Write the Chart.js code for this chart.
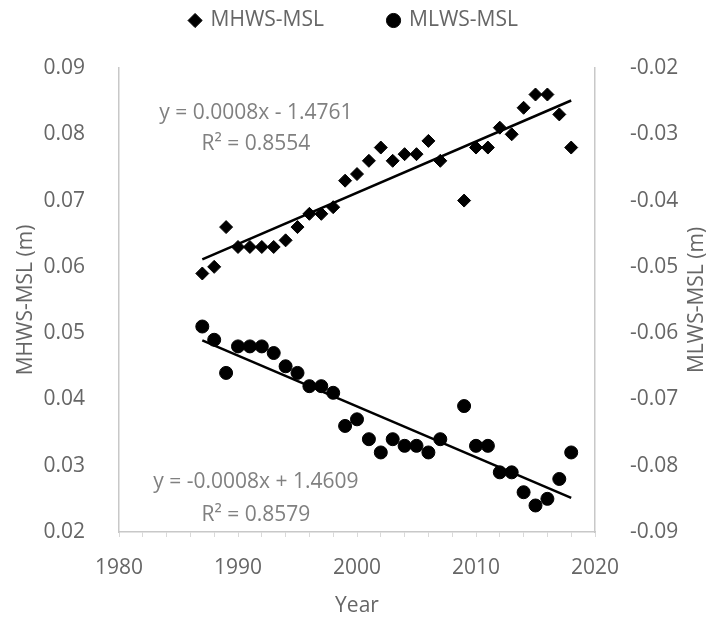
<!DOCTYPE html>
<html>
<head>
<meta charset="utf-8">
<script src="https://cdn.jsdelivr.net/npm/chart.js@4/dist/chart.umd.min.js"></script>
<style>
  html, body { margin: 0; padding: 0; background: #fff; }
  #wrap { width: 708px; height: 620px; }
</style>
</head>
<body>
<div id="wrap"><canvas id="tideChart" width="708" height="620"></canvas></div>
<script>
// values (no 2008 record in either series)
const years = [1987, 1988, 1989, 1990, 1991, 1992, 1993, 1994, 1995, 1996, 1997, 1998, 1999, 2000, 2001, 2002, 2003, 2004, 2005, 2006, 2007,
               2009, 2010, 2011, 2012, 2013, 2014, 2015, 2016, 2017, 2018];
const mhwsMsl = [0.059, 0.060, 0.066, 0.063, 0.063, 0.063, 0.063, 0.064, 0.066, 0.068, 0.068, 0.069, 0.073, 0.074, 0.076, 0.078, 0.076, 0.077, 0.077, 0.079, 0.076,
                 0.070, 0.078, 0.078, 0.081, 0.080, 0.084, 0.086, 0.086, 0.083, 0.078];
const mlwsMsl = [-0.059, -0.061, -0.066, -0.062, -0.062, -0.062, -0.063, -0.065, -0.066, -0.068, -0.068, -0.069, -0.074, -0.073, -0.076, -0.078, -0.076, -0.077, -0.077, -0.078, -0.076,
                 -0.071, -0.077, -0.077, -0.081, -0.081, -0.084, -0.086, -0.085, -0.082, -0.078];
const seriesNames = ['MHWS-MSL', 'MLWS-MSL'];
const axisTitles = ['Year', 'MHWS-MSL (m)', 'MLWS-MSL (m)'];
const xTickLabels = [1980, 1990, 2000, 2010, 2020];
const fitLabels = ['y = 0.0008x - 1.4761', 'R\u00b2 = 0.8554', 'y = -0.0008x + 1.4609', 'R\u00b2 = 0.8579'];

const fam = "'Open Sans', sans-serif";
const textGrey = '#666666';
const axisGrey = '#c8c8c8';

// least squares line through the points, drawn from first to last year
const trend = (xs, ys) =>
{
  const n = xs.length;
  const mx = xs.reduce((a, b) => a + b, 0) / n;
  const my = ys.reduce((a, b) => a + b, 0) / n;
  let sxy = 0, sxx = 0;
  for (let i = 0; i < n; i++)
  {
    sxy += (xs[i] - mx) * (ys[i] - my);
    sxx += (xs[i] - mx) * (xs[i] - mx);
  }
  const slope = sxy / sxx;
  const icpt = my - slope * mx;
  return [ { x: xs[0], y: icpt + slope * xs[0] }, { x: xs[n - 1], y: icpt + slope * xs[n - 1] } ];
}

const toPoints = vals => years.map((yr, i) => ({ x: yr, y: vals[i] }));

// legend box taller so the plot starts lower
const legendHeight = {
  id: 'legendHeight',
  beforeInit(chart)
  {
    const origFit = chart.legend.fit;
    chart.legend.fit = function fit()
    {
      origFit.bind(chart.legend)();
      this.height = 68;
    }
  }
}

// trendline equations + right axis title (reads bottom to top like the left one)
const extraText = {
  id: 'extraText',
  afterDraw(chart)
  {
    const { ctx, scales: { x, y, y1 } } = chart;
    ctx.save();
    ctx.font = '21px ' + fam;
    ctx.fillStyle = '#808080';
    ctx.textAlign = 'center';
    ctx.textBaseline = 'middle';
    const cx = x.getPixelForValue(1991.5);
    ctx.fillText(fitLabels[0], cx, y.getPixelForValue(0.0832));
    ctx.fillText(fitLabels[1], cx, y.getPixelForValue(0.0785));
    ctx.fillText(fitLabels[2], cx, y.getPixelForValue(0.0276));
    ctx.fillText(fitLabels[3], cx, y.getPixelForValue(0.0226));

    ctx.fillStyle = textGrey;
    ctx.translate(y1.right - 11, (y1.top + y1.bottom) / 2);
    ctx.rotate(-Math.PI / 2);
    ctx.fillText(axisTitles[2], 0, 0);
    ctx.restore();
  }
}

const tideChart = new Chart(document.getElementById('tideChart').getContext('2d'),
{
  type: 'scatter',
  data:
  {
    datasets:
    [
      {
        label: seriesNames[0],
        data: toPoints(mhwsMsl),
        yAxisID: 'y',
        pointStyle: 'rectRot',
        pointRadius: 6.5,
        backgroundColor: '#000',
        borderColor: '#000',
        order: 2
      },
      {
        label: seriesNames[1],
        data: toPoints(mlwsMsl),
        yAxisID: 'y1',
        pointStyle: 'circle',
        pointRadius: 6.5,
        backgroundColor: '#000',
        borderColor: '#000',
        order: 2
      },
      {
        label: 'trend1',
        type: 'line',
        data: trend(years, mhwsMsl),
        yAxisID: 'y',
        borderColor: '#000',
        borderWidth: 2.5,
        pointRadius: 0,
        order: 1
      },
      {
        label: 'trend2',
        type: 'line',
        data: trend(years, mlwsMsl),
        yAxisID: 'y1',
        borderColor: '#000',
        borderWidth: 2.5,
        pointRadius: 0,
        order: 1
      }
    ]
  },
  options:
  {
    responsive: false,
    animation: false,
    layout: { padding: 0 },
    plugins:
    {
      legend:
      {
        position: 'top',
        labels:
        {
          usePointStyle: true,
          boxWidth: 10,
          boxHeight: 10,
          padding: 10,
          color: textGrey,
          font: { family: fam, size: 21 },
          generateLabels: chart => Chart.defaults.plugins.legend.labels.generateLabels(chart)
            .filter(l => l.datasetIndex < 2)
            .map(l => { if (l.datasetIndex === 0) l.text += '          '; return l; })
        }
      },
      tooltip: { enabled: false }
    },
    scales:
    {
      x:
      {
        type: 'linear',
        min: 1980,
        max: 2020,
        afterFit: s => { s.height = 88; },
        ticks:
        {
          stepSize: 2,
          autoSkip: false,
          maxRotation: 0,
          color: textGrey,
          font: { family: fam, size: 21 },
          padding: 18,
          callback: v => xTickLabels.includes(v) ? String(v) : ''
        },
        grid: { display: true, drawOnChartArea: false, drawTicks: true, tickLength: 5, color: '#d9d9d9' },
        border: { display: true, color: axisGrey, width: 1.5 },
        title: { display: true, text: axisTitles[0], color: textGrey, font: { family: fam, size: 21, lineHeight: 1 }, padding: { top: 0, bottom: 3 } }
      },
      y:
      {
        position: 'left',
        min: 0.02,
        max: 0.09,
        afterFit: s => { s.width = 119; },
        ticks:
        {
          stepSize: 0.01,
          color: textGrey,
          font: { family: fam, size: 21 },
          padding: 26,
          callback: v => v.toFixed(2)
        },
        grid: { display: false },
        border: { display: true, color: axisGrey, width: 1.5 },
        title: { display: true, text: axisTitles[1], color: textGrey, font: { family: fam, size: 21, lineHeight: 1 }, padding: { top: 16, bottom: 0 } }
      },
      y1:
      {
        position: 'right',
        min: -0.09,
        max: -0.02,
        afterFit: s => { s.width = 113; },
        ticks:
        {
          stepSize: 0.01,
          color: textGrey,
          font: { family: fam, size: 21 },
          padding: 27,
          callback: v => v.toFixed(2)
        },
        grid: { display: false },
        border: { display: true, color: axisGrey, width: 1.5 },
        title: { display: false }
      }
    }
  },
  plugins: [legendHeight, extraText]
});
</script>
</body>
</html>
